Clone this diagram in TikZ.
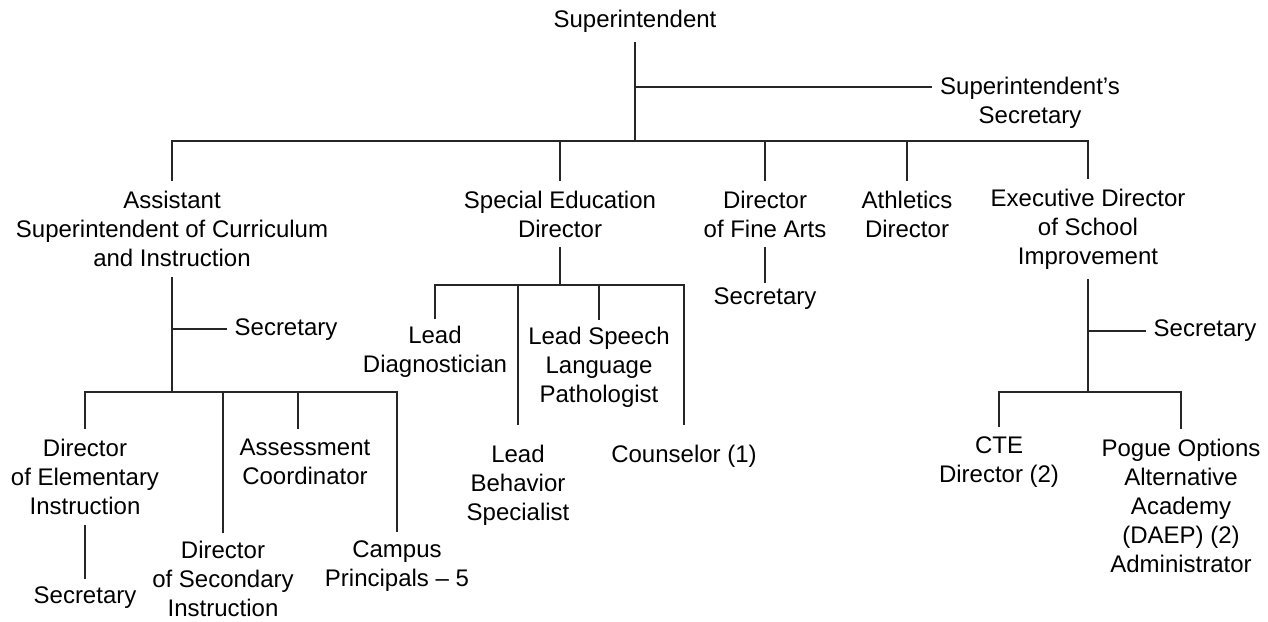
\documentclass[tikz,border=0pt]{standalone}
\usepackage{fontspec}
\setmainfont{Liberation Sans}
\begin{document}
\begin{tikzpicture}[x=1pt,y=-1pt,
  lbl/.style={align=center,inner sep=0pt,outer xsep=8pt,outer ysep=10pt,
    font=\fontsize{24}{29}\selectfont},
  conn/.style={draw=black!85,line width=1.1pt}]
\useasboundingbox (0,0) rectangle (1268,621);
% nodes
\node[lbl] (sup) at (635,21) {Superintendent};
\node[lbl] (ssec) at (1030,103) {Superintendent’s\\Secretary};
\node[lbl] (asst) at (172,229) {Assistant\\Superintendent of Curriculum\\and Instruction};
\node[lbl] (sped) at (560,214) {Special Education\\Director};
\node[lbl] (fine) at (765,214) {Director\\of Fine Arts};
\node[lbl] (ath) at (907,214) {Athletics\\Director};
\node[lbl] (exec) at (1088,229) {Executive Director\\of School\\Improvement};
\node[lbl] (asec) at (286,330) {Secretary};
\node[lbl] (elem) at (85,477) {Director\\of Elementary\\Instruction};
\node[lbl,outer ysep=8pt] (secd) at (223,579) {Director\\of Secondary\\Instruction};
\node[lbl] (assess) at (305,462) {Assessment\\Coordinator};
\node[lbl,outer ysep=9pt] (campus) at (397,566) {Campus\\Principals – 5};
\node[lbl,outer ysep=8pt] (esec) at (85,598) {Secretary};
\node[lbl,outer ysep=7pt] (diag) at (435,352) {Lead\\Diagnostician};
\node[lbl,outer ysep=7pt] (speech) at (599,367) {Lead Speech\\Language\\Pathologist};
\node[lbl,outer ysep=20pt] (behav) at (518,485) {Lead\\Behavior\\Specialist};
\node[lbl,outer ysep=20pt] (couns) at (684,456) {Counselor (1)};
\node[lbl,outer ysep=5pt] (fsec) at (765,299) {Secretary};
\node[lbl] (xsec) at (1205,331) {Secretary};
\node[lbl] (cte) at (999,462) {CTE\\Director (2)};
\node[lbl] (pogue) at (1181,506) {Pogue Options\\Alternative\\Academy\\(DAEP) (2)\\Administrator};
% junction coordinates
\coordinate (b1) at (635,141);
\coordinate (j0) at (635,87);
\coordinate (b2) at (172,392);
\coordinate (j1) at (172,329);
\coordinate (b3) at (1088,392);
\coordinate (j2) at (1088,331);
\coordinate (b4) at (560,285);
% level 1
\draw[conn] (sup.south) -- (b1);
\draw[conn] (j0) -- (ssec.west |- j0);
\draw[conn] (asst.north) -- (asst.north |- b1) -- (exec.north |- b1) -- (exec.north);
\draw[conn] (sped.north) -- (sped.north |- b1);
\draw[conn] (fine.north) -- (fine.north |- b1);
\draw[conn] (ath.north) -- (ath.north |- b1);
% assistant superintendent
\draw[conn] (asst.south) -- (b2);
\draw[conn] (j1) -- (asec.west |- j1);
\draw[conn] (elem.north) -- (elem.north |- b2) -- (campus.north |- b2) -- (campus.north);
\draw[conn] (secd.north) -- (secd.north |- b2);
\draw[conn] ([xshift=-7pt]assess.north) -- ([xshift=-7pt]assess.north |- b2);
\draw[conn] (elem.south) -- (esec.north);
% special education
\draw[conn] (sped.south) -- (b4);
\draw[conn] (diag.north) -- (diag.north |- b4) -- (couns.north |- b4) -- (couns.north);
\draw[conn] (behav.north) -- (behav.north |- b4);
\draw[conn] (speech.north) -- (speech.north |- b4);
% fine arts
\draw[conn] (fine.south) -- (fsec.north);
% executive director
\draw[conn] (exec.south) -- (b3);
\draw[conn] (j2) -- (xsec.west |- j2);
\draw[conn] (cte.north) -- (cte.north |- b3) -- (pogue.north |- b3) -- (pogue.north);
\end{tikzpicture}
\end{document}
